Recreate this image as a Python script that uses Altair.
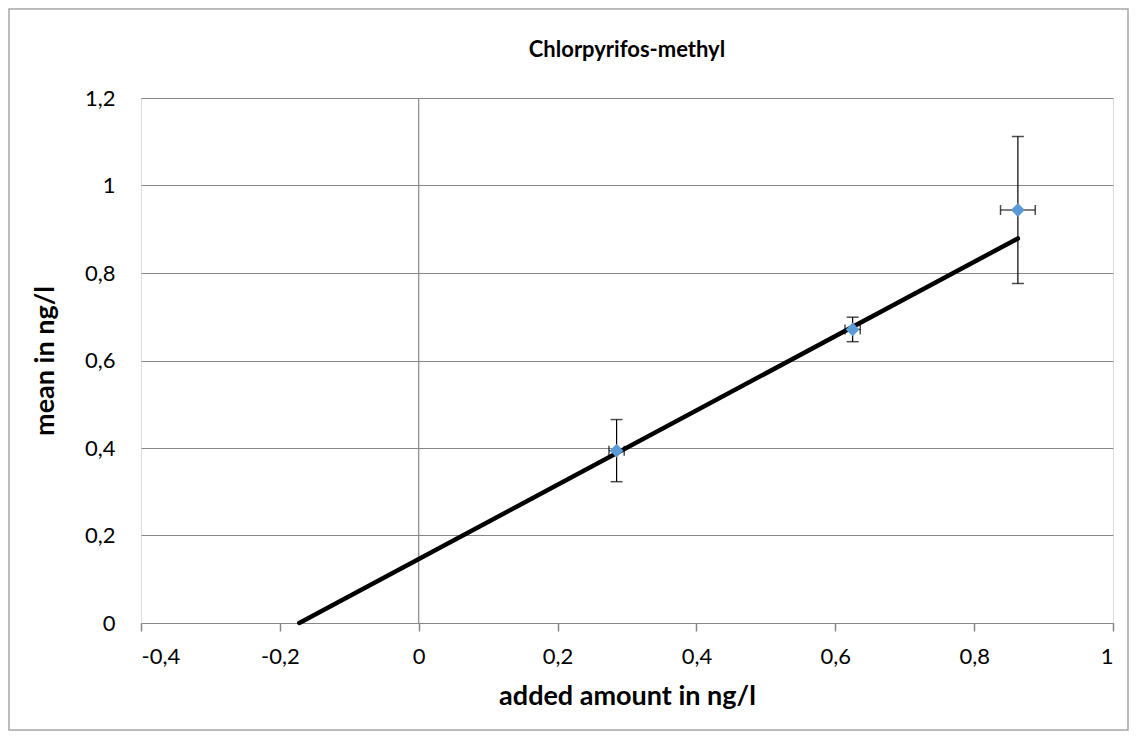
import altair as alt
import pandas as pd

# Data
added = [0.285, 0.625, 0.863]
mean = [0.394, 0.671, 0.944]
y_err = [0.071, 0.028, 0.168]
x_err = [0.011, 0.011, 0.025]

fit_x = [-0.172, 0.863]
fit_y = [0.0, 0.879]

x_ticks = [-0.4, -0.2, 0, 0.2, 0.4, 0.6, 0.8, 1.0]
y_ticks = [0, 0.2, 0.4, 0.6, 0.8, 1.0, 1.2]

FONT = "Lato"
GRID = "#878787"
POINT = "#5b9bd5"

pts = pd.DataFrame({
    "x": added, "y": mean,
    "ylo": [m - e for m, e in zip(mean, y_err)],
    "yhi": [m + e for m, e in zip(mean, y_err)],
    "xlo": [a - e for a, e in zip(added, x_err)],
    "xhi": [a + e for a, e in zip(added, x_err)],
})
fit = pd.DataFrame({"x": fit_x, "y": fit_y})

label_expr = "replace(replace(format(datum.value, '.1~f'), '.', ','), '\u2212', '-')"

xscale = alt.Scale(domain=[-0.4, 1.0], nice=False, zero=False)
yscale = alt.Scale(domain=[0, 1.2], nice=False)

xaxis = alt.Axis(
    values=x_ticks, labelExpr=label_expr, grid=False, domain=False,
    ticks=True, tickSize=8, tickColor=GRID, tickWidth=1.5,
    labelFont=FONT, labelFontSize=22, labelColor="black", labelPadding=15,
    title="added amount in ng/l", titleFont=FONT, titleFontSize=27, titleFontWeight="bold",
    titleColor="black", titleX=486, titleY=73, titleAnchor="middle", titleAlign="center",
    titleBaseline="middle",
)
yaxis = alt.Axis(
    values=y_ticks, labelExpr=label_expr, grid=True, gridColor=GRID, gridWidth=1.2,
    domain=False, ticks=False,
    labelFont=FONT, labelFontSize=22, labelColor="black", labelPadding=26,
    title="mean in ng/l", titleFont=FONT, titleFontSize=27, titleFontWeight="bold",
    titleColor="black", titleX=-96, titleY=262.5, titleAngle=270, titleAlign="center",
    titleBaseline="middle",
)

base = alt.Chart(pts)

grid_base = base.mark_point(opacity=0).encode(
    x=alt.X("x:Q", scale=xscale, axis=xaxis),
    y=alt.Y("y:Q", scale=yscale, axis=yaxis),
)

zero_line = alt.Chart(pd.DataFrame({"x": [0]})).mark_rule(color=GRID, strokeWidth=1.2).encode(
    x=alt.X("x:Q", scale=xscale)
)

fit_line = alt.Chart(fit).mark_line(color="black", strokeWidth=4.5, strokeCap="round").encode(
    x=alt.X("x:Q", scale=xscale), y=alt.Y("y:Q", scale=yscale)
)

y_bars = base.mark_rule(color="black", strokeWidth=1.2).encode(
    x=alt.X("x:Q", scale=xscale), y=alt.Y("ylo:Q", scale=yscale), y2="yhi:Q"
)
y_cap_hi = base.mark_tick(color="black", orient="horizontal", size=12, thickness=1.5).encode(
    x=alt.X("x:Q", scale=xscale), y=alt.Y("yhi:Q", scale=yscale)
)
y_cap_lo = base.mark_tick(color="black", orient="horizontal", size=12, thickness=1.5).encode(
    x=alt.X("x:Q", scale=xscale), y=alt.Y("ylo:Q", scale=yscale)
)
x_bars = base.mark_rule(color="black", strokeWidth=1.2).encode(
    x=alt.X("xlo:Q", scale=xscale), x2="xhi:Q", y=alt.Y("y:Q", scale=yscale)
)
x_cap_lo = base.mark_tick(color="black", orient="vertical", size=10, thickness=1.5).encode(
    x=alt.X("xlo:Q", scale=xscale), y=alt.Y("y:Q", scale=yscale)
)
x_cap_hi = base.mark_tick(color="black", orient="vertical", size=10, thickness=1.5).encode(
    x=alt.X("xhi:Q", scale=xscale), y=alt.Y("y:Q", scale=yscale)
)
points = base.mark_point(shape="diamond", filled=True, color=POINT, opacity=1, size=190).encode(
    x=alt.X("x:Q", scale=xscale), y=alt.Y("y:Q", scale=yscale)
)

title = alt.Chart(pd.DataFrame({"t": ["Chlorpyrifos-methyl"]})).mark_text(
    font=FONT, fontSize=22, fontWeight="bold", color="black", align="center", baseline="middle"
).encode(text="t:N", x=alt.value(486), y=alt.value(-48))

outer = alt.Chart(pd.DataFrame({"a": [0]})).mark_rect(
    filled=False, stroke="#a6a6a6", strokeWidth=1.5, clip=False
).encode(x=alt.value(-132), x2=alt.value(987), y=alt.value(-89), y2=alt.value(632))

chart = alt.layer(
    outer, grid_base, zero_line, fit_line, y_bars, y_cap_hi, y_cap_lo,
    x_bars, x_cap_lo, x_cap_hi, points, title
).properties(
    width=972, height=525,
    padding={"left": 133, "top": 90, "right": 16, "bottom": 108},
    autosize=alt.AutoSizeParams(type="none"),
).configure_view(
    stroke=GRID, strokeWidth=2
).configure(background="white")

chart.save("out.html", embed_options={"renderer": "svg", "actions": False})
